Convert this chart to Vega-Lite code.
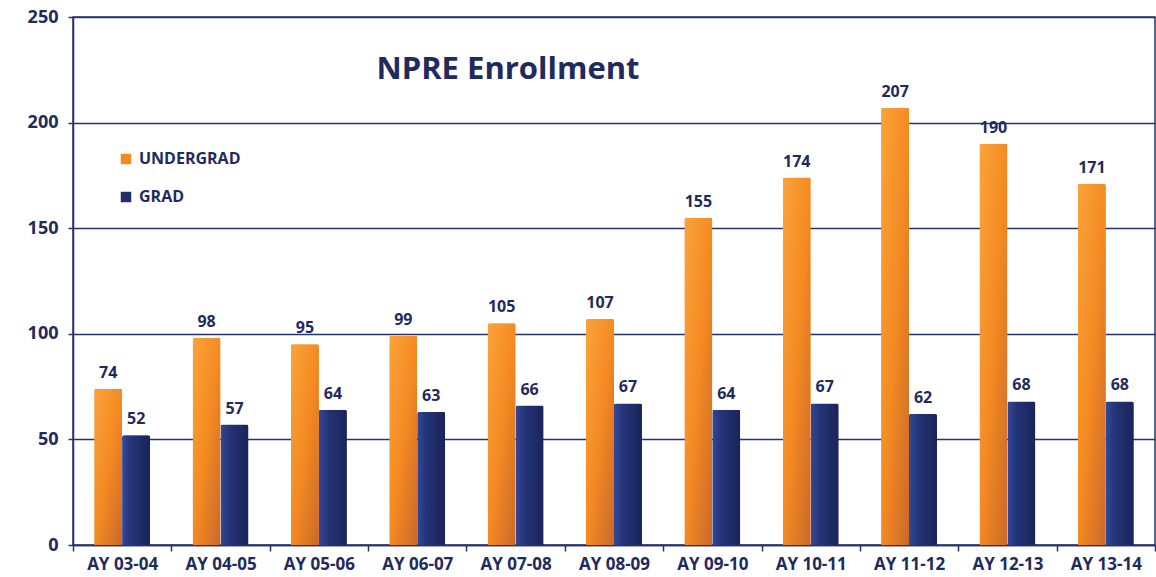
{
  "$schema": "https://vega.github.io/schema/vega-lite/v6.json",
  "width": 1082,
  "height": 528,
  "autosize": "none",
  "padding": {"left": 73, "top": 17, "right": 1, "bottom": 32},
  "background": "white",
  "config": {
    "font": "Open Sans",
    "view": {"stroke": "#27336e", "strokeWidth": 1.5}
  },
  "title": {
    "text": "NPRE Enrollment",
    "font": "Open Sans",
    "fontSize": 31,
    "fontWeight": "bold",
    "color": "#1f2a5e",
    "anchor": "middle",
    "dx": -106,
    "offset": -78
  },
  "data": {
    "values": [
      {"year": "AY 03-04", "type": "UNDERGRAD", "n": 74},
      {"year": "AY 03-04", "type": "GRAD", "n": 52},
      {"year": "AY 04-05", "type": "UNDERGRAD", "n": 98},
      {"year": "AY 04-05", "type": "GRAD", "n": 57},
      {"year": "AY 05-06", "type": "UNDERGRAD", "n": 95},
      {"year": "AY 05-06", "type": "GRAD", "n": 64},
      {"year": "AY 06-07", "type": "UNDERGRAD", "n": 99},
      {"year": "AY 06-07", "type": "GRAD", "n": 63},
      {"year": "AY 07-08", "type": "UNDERGRAD", "n": 105},
      {"year": "AY 07-08", "type": "GRAD", "n": 66},
      {"year": "AY 08-09", "type": "UNDERGRAD", "n": 107},
      {"year": "AY 08-09", "type": "GRAD", "n": 67},
      {"year": "AY 09-10", "type": "UNDERGRAD", "n": 155},
      {"year": "AY 09-10", "type": "GRAD", "n": 64},
      {"year": "AY 10-11", "type": "UNDERGRAD", "n": 174},
      {"year": "AY 10-11", "type": "GRAD", "n": 67},
      {"year": "AY 11-12", "type": "UNDERGRAD", "n": 207},
      {"year": "AY 11-12", "type": "GRAD", "n": 62},
      {"year": "AY 12-13", "type": "UNDERGRAD", "n": 190},
      {"year": "AY 12-13", "type": "GRAD", "n": 68},
      {"year": "AY 13-14", "type": "UNDERGRAD", "n": 171},
      {"year": "AY 13-14", "type": "GRAD", "n": 68}
    ]
  },
  "encoding": {
    "x": {
      "field": "year",
      "type": "nominal",
      "sort": null,
      "scale": {"paddingInner": 0, "paddingOuter": 0},
      "axis": {
        "title": null,
        "labelAngle": 0,
        "labelFont": "Open Sans",
        "labelFontSize": 17,
        "labelFontWeight": "bold",
        "labelColor": "#1f2a5e",
        "labelPadding": 5,
        "domainColor": "#27336e",
        "domainWidth": 1.5,
        "tickColor": "#27336e",
        "tickWidth": 1.5,
        "tickSize": 6,
        "tickBand": "extent",
        "grid": false
      }
    },
    "xOffset": {
      "field": "type",
      "type": "nominal",
      "sort": ["UNDERGRAD", "GRAD"],
      "scale": {"paddingOuter": 0.76, "paddingInner": 0}
    },
    "y": {
      "field": "n",
      "type": "quantitative",
      "scale": {"domain": [0, 250]},
      "axis": {
        "title": null,
        "values": [0, 50, 100, 150, 200, 250],
        "labelFont": "Open Sans",
        "labelFontSize": 18,
        "labelFontWeight": "bold",
        "labelColor": "#1f2a5e",
        "labelPadding": 10,
        "domainColor": "#27336e",
        "domainWidth": 1.5,
        "tickColor": "#27336e",
        "tickWidth": 1.5,
        "tickSize": 5,
        "gridColor": "#27336e",
        "gridWidth": 1.3,
        "gridOpacity": 1
      }
    }
  },
  "layer": [
    {
      "mark": {"type": "bar", "cornerRadiusTopLeft": 2, "cornerRadiusTopRight": 2},
      "encoding": {
        "color": {
          "field": "type",
          "type": "nominal",
          "sort": ["UNDERGRAD", "GRAD"],
          "scale": {"domain": ["UNDERGRAD", "GRAD"], "range": ["#f28a1f", "#1f2d6b"]},
          "legend": {
            "title": null,
            "orient": "none",
            "legendX": 45,
            "legendY": 134,
            "symbolType": "square",
            "symbolSize": 110,
            "symbolStrokeWidth": 0,
            "rowPadding": 22,
            "labelFont": "Open Sans",
            "labelFontSize": 16,
            "labelFontWeight": "bold",
            "labelColor": "#1f2a5e",
            "labelOffset": 5
          }
        }
      }
    },
    {
      "transform": [{"filter": "datum.type === 'UNDERGRAD'"}],
      "mark": {
        "type": "bar",
        "cornerRadiusTopLeft": 2,
        "cornerRadiusTopRight": 2,
        "fill": {
          "gradient": "linear",
          "x1": 0, "y1": 0, "x2": 1, "y2": 1,
          "stops": [
            {"offset": 0, "color": "#fba33a"},
            {"offset": 0.5, "color": "#f48a22"},
            {"offset": 1, "color": "#c9692a"}
          ]
        }
      }
    },
    {
      "transform": [{"filter": "datum.type === 'GRAD'"}],
      "mark": {
        "type": "bar",
        "cornerRadiusTopLeft": 2,
        "cornerRadiusTopRight": 2,
        "fill": {
          "gradient": "linear",
          "x1": 0, "y1": 0, "x2": 1, "y2": 0,
          "stops": [
            {"offset": 0, "color": "#34479a"},
            {"offset": 0.35, "color": "#233375"},
            {"offset": 1, "color": "#1a2459"}
          ]
        }
      }
    },
    {
      "mark": {
        "type": "text",
        "baseline": "bottom",
        "dy": -8,
        "font": "Open Sans",
        "fontSize": 16,
        "fontWeight": "bold",
        "color": "#1f2a5e"
      },
      "encoding": {
        "text": {"field": "n", "type": "quantitative"}
      }
    }
  ]
}
